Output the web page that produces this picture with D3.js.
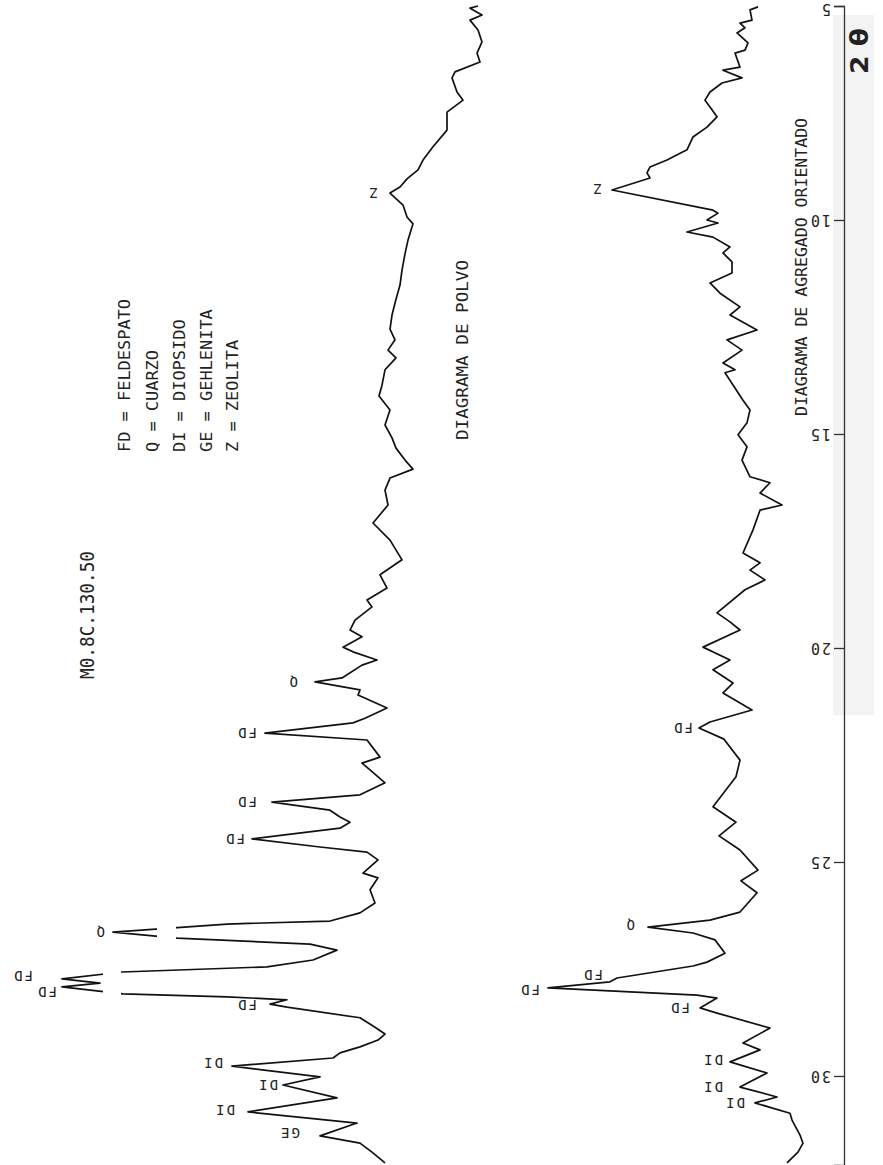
<!DOCTYPE html>
<html><head><meta charset="utf-8">
<script src="https://cdn.jsdelivr.net/npm/d3@7"></script>
<style>
html,body{margin:0;padding:0;background:#fff;}
svg{display:block;}
text{font-family:"DejaVu Sans Mono",monospace;fill:#222;}
</style></head>
<body>
<svg id="c" width="883" height="1165"></svg>
<script>
// ---- DATA ----
const axisTicks = [5, 10, 15, 20, 25, 30];

// Upper trace: DIAGRAMA DE POLVO (2-theta, relative counts)
const upperTheta = [5.00,5.05,5.21,5.33,5.56,5.84,6.10,6.31,6.54,6.68,7.01,7.20,7.48,7.90,8.29,8.60,8.83,9.04,9.23,9.37,
 9.65,9.93,10.09,10.47,10.79,11.17,11.52,11.85,12.22,12.55,12.80,13.04,13.22,13.50,13.86,14.11,14.44,14.79,15.09,15.33,
 15.61,15.82,16.03,16.31,16.66,17.08,17.48,17.94,18.29,18.60,18.88,19.04,19.35,19.58,19.74,19.98,20.09,20.28,20.40,20.70,
 20.79,20.98,21.10,21.40,21.64,21.75,21.99,22.15,22.55,22.69,22.85,23.15,23.43,23.60,23.79,23.95,24.07,24.21,24.46,24.65,
 24.77,24.95,25.26,25.37,25.65,25.96,26.19,26.38,26.45,26.64,26.78,26.92,27.06,27.29,27.45,27.57,27.73,27.83,27.92,28.08,
 28.15,28.22,28.32,28.39,28.64,28.86,29.02,29.16,29.32,29.46,29.58,29.77,30.02,30.21,30.51,30.84,31.10,31.40,31.57,31.78,32.03];
const upperCounts = [5.5,7.5,4.5,7.5,5.5,4.5,5.75,5,11.25,12,10.75,9.25,13.25,13.25,16.75,19.25,20.5,23.25,25,27.5,
 24.25,23.25,21.75,23,23.75,24.5,25,26,27,27.5,26.25,28,26,28.75,29.5,30.25,27.5,28.75,27,26,
 23.75,21.75,27.5,28.75,28,31.75,27.5,24.5,30,28.25,33.25,32,36.25,37.5,34.5,39.25,36.75,30.75,34.5,39.5,
 46.25,35,35.5,28.25,33.75,36.75,58.75,33.25,30,34.5,32.5,28.75,35,57,42.5,40,37.5,40,62,45,
 33.25,30.5,34.25,30.5,32.5,31.25,35,42.5,68.25,96.75,80.75,47.5,40.75,46.75,58.25,94.5,109.5,100,109.5,94.25,
 68.25,53.25,57.5,53.25,35,31.25,28.75,30.5,35,40,41.75,67,45,54.25,40.75,63,35.75,45,35,32,28.75];

// Lower trace: DIAGRAMA DE AGREGADO ORIENTADO
const lowerTheta = [5.02,5.09,5.33,5.40,5.51,5.63,5.86,6.03,6.10,6.43,6.50,6.68,6.80,7.01,7.20,7.36,7.59,7.83,8.06,8.36,
 8.60,8.76,8.90,9.02,9.30,9.77,9.84,10.00,10.07,
 10.28,10.40,10.63,10.77,10.98,11.24,11.47,11.71,12.03,12.22,12.57,12.80,13.04,13.34,13.50,13.57,14.21,14.44,14.74,15.02,
 15.30,15.61,16.00,16.14,16.38,16.66,16.78,17.24,17.78,18.01,18.18,18.41,18.64,19.18,19.39,19.58,19.98,20.28,20.51,20.82,
 21.05,21.45,21.73,21.87,
 22.13,22.62,23.01,23.71,24.07,24.39,24.72,25.19,25.44,25.72,26.17,26.36,26.52,26.66,26.82,27.13,27.34,27.43,27.71,27.80,
 27.94,28.11,28.18,28.41,28.53,28.88,29.23,29.39,29.67,29.93,30.26,30.49,30.63,30.87,31.03,31.38,31.57,31.78,32.03];
const lowerCounts = [15.5,17.5,17,20,18.75,20.75,18,18.75,21.25,20,24.25,19.5,24.5,27.5,28.75,27.5,25.75,28.25,31.75,33.25,
 38.25,42.5,43.25,42.5,52,26.75,25.5,28.25,25.5,
 33.25,26.75,22.5,24.25,22,22,27.5,25,20,22.5,15.75,23.25,19.5,24.25,21.25,23.75,19.25,17.5,18.25,20.5,
 18.25,19.5,17.5,12.5,15,9.5,15,16.75,19.25,15,17.5,13.75,18.75,25.75,22.5,20,29.25,22.5,26.75,21.75,
 24.25,17,27.5,30.25,
 24,20,21,26.75,21,25.25,20,15.5,19.75,15.75,20,27.5,43,31.75,26.25,23.75,28.25,31.75,50.75,52.5,
 68,30.75,25.75,30,25.75,12.5,19.25,15,22.5,13.25,20,10.75,16.25,7.5,7,5,4.25,5.5,8.25];

// Peak labels (mineral, 2-theta, counts at tip)
const upperLabelText  = ["Z","Q","FD","FD","FD","Q","FD","FD","FD","DI","DI","DI","GE"];
const upperLabelTheta = [9.37,20.79,21.99,23.60,24.46,26.64,27.73,27.92,28.32,29.77,30.21,30.84,31.40];
const upperLabelCount = [27.5,46.25,58.75,57,62,96.75,109.5,109.5,57.5,67,54.25,63,45];
const lowerLabelText  = ["Z","FD","Q","FD","FD","FD","DI","DI","DI"];
const lowerLabelTheta = [9.30,21.87,26.52,27.71,27.94,28.41,29.67,30.26,30.63];
const lowerLabelCount = [52,30.25,43,50.75,68,30,22.5,20,16.25];

// Off-scale peaks drawn with a pen break (2-theta, counts range of break)
const breakTheta = [26.64, 27.83];
const breakFrom  = [81, 94.75];
const breakTo    = [85.75, 99.25];

const legendLines = ["FD = FELDESPATO","Q = CUARZO","DI = DIOPSIDO","GE = GEHLENITA","Z = ZEOLITA"];
const sampleName = "M0.8C.130.50";

// ---- STYLE / LAYOUT ----
const upperGap = [[12,0],[17,0],[8,0],[15,0],[7,0],[8,0],[29,-3],[5,5],[13,1],[9,-3],[5,0],[13,-2],[20,-3]];
const lowerGap = [[10,-1],[6,0],[13,-2],[14,-3],[8,2],[10,0],[7,-2],[17,0],[10,0]];

const svg = d3.select("#c");
const y = d3.scaleLinear().domain([5, 32.08]).range([6, 1165]);
const xU = d3.scaleLinear().domain([0, 100]).range([500, 100]);
const xL = d3.scaleLinear().domain([0, 100]).range([820, 420]);

// faint scan band along the axis
svg.append("rect").attr("x",833).attr("y",15).attr("width",41).attr("height",700).attr("fill","#f3f3f3");

// axis
const axis = d3.axisLeft(y).tickValues(axisTicks).tickSize(10).tickSizeOuter(10).tickFormat(d3.format("d"));
const ag = svg.append("g").attr("transform","translate(844,0)").call(axis);
ag.select(".domain").attr("stroke","#333").attr("stroke-width",1.3);
ag.selectAll(".tick line").attr("stroke","#333").attr("stroke-width",1.3);
ag.selectAll(".tick text")
  .attr("x",0).attr("dy",null)
  .attr("text-anchor","start").attr("dominant-baseline","central")
  .attr("transform",(d,i)=>`translate(-13,${i===0?2:0}) rotate(180)`)
  .style("font-family","DejaVu Sans Mono").style("font-size","15px")
  .style("letter-spacing","2px").attr("fill","#222");

// traces
const lineU = d3.line().x((d,i)=>xU(upperCounts[i])).y((d)=>y(d));
const lineL = d3.line().x((d,i)=>xL(lowerCounts[i])).y((d)=>y(d));
svg.append("path").attr("d",lineU(upperTheta)).attr("fill","none").attr("stroke","#111")
  .attr("stroke-width",1.7).attr("stroke-linejoin","round");
svg.append("path").attr("d",lineL(lowerTheta)).attr("fill","none").attr("stroke","#111")
  .attr("stroke-width",1.7).attr("stroke-linejoin","round");

// pen breaks on off-scale peaks
breakTheta.forEach((t,i)=>{
  svg.append("rect")
    .attr("x", xU(breakTo[i])).attr("width", xU(breakFrom[i]) - xU(breakTo[i]))
    .attr("y", y(t - 0.35)).attr("height", y(t + 0.35) - y(t - 0.35))
    .attr("fill","#fff");
});

// peak labels (rotated 180 deg, as on the chart)
function labels(texts, thetas, counts, xs, gaps){
  texts.forEach((t,i)=>{
    const px = xs(counts[i]) - gaps[i][0];
    const py = y(thetas[i]) + gaps[i][1];
    svg.append("text").text(t)
      .attr("text-anchor","start").attr("dominant-baseline","central")
      .attr("transform",`translate(${px},${py}) rotate(180)`)
      .style("font-size","14px").style("letter-spacing","2px");
  });
}
labels(upperLabelText, upperLabelTheta, upperLabelCount, xU, upperGap);
labels(lowerLabelText, lowerLabelTheta, lowerLabelCount, xL, lowerGap);

// vertical texts
function vtext(str, x, yStart, size, len, extra){
  const t = svg.append("text").text(str)
    .attr("transform",`translate(${x},${yStart}) rotate(-90)`)
    .attr("text-anchor","start")
    .style("font-size", size + "px");
  if (len) t.attr("textLength", len).attr("lengthAdjust","spacingAndGlyphs");
  if (extra) extra(t);
  return t;
}
vtext(sampleName, 94, 679, 19, 128);
const legX = [130, 158, 185, 212, 238];
legendLines.forEach((s,i)=> vtext(s, legX[i], 452, 16, s.length * 10.2));
vtext("DIAGRAMA DE POLVO", 468, 440, 16, 180);
vtext("DIAGRAMA DE AGREGADO ORIENTADO", 807, 416, 16, 298);
vtext("2 θ", 868, 74, 25, 46, t=>t.style("font-weight","bold").style("font-family","DejaVu Sans").attr("fill","#111"));
</script>
</body></html>
